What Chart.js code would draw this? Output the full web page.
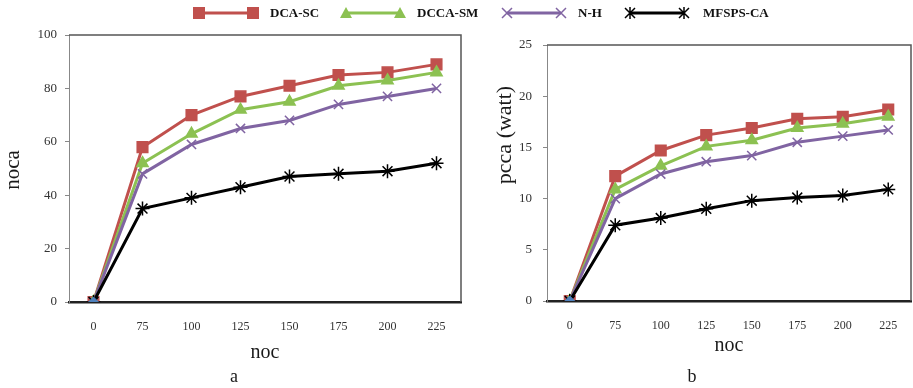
<!DOCTYPE html>
<html>
<head>
<meta charset="utf-8">
<script src="https://cdn.jsdelivr.net/npm/chart.js@4/dist/chart.umd.min.js"></script>
<style>
  body { margin: 0; background: #fff; }
  #wrap { position: relative; width: 913px; height: 388px; overflow: hidden; }
  #nocaChart { position: absolute; left: 0; top: 0; }
  #pccaChart { position: absolute; left: 465px; top: 0; }
  .legend-item { position: absolute; top: 4px; height: 18px; }
  .legend-item canvas { position: absolute; left: 0; top: 0; }
  .legend-item span {
    position: absolute; top: 1px; white-space: nowrap;
    font: bold 13px "Liberation Serif", "Times New Roman", serif; color: #111;
  }
</style>
</head>
<body>
<div id="wrap">
  <canvas id="nocaChart" width="470" height="388"></canvas>
  <canvas id="pccaChart" width="455" height="388"></canvas>
  <div id="legend"></div>
</div>
<script>
// categories
const nocLabels = ['0', '75', '100', '125', '150', '175', '200', '225'];
const seriesNames = ['DCA-SC', 'DCCA-SM', 'N-H', 'MFSPS-CA'];

// chart a: noca
const nocaDcaSc   = [0, 58, 70, 77, 81, 85, 86, 89];
const nocaDccaSm  = [0, 52, 63, 72, 75, 81, 83, 86];
const nocaNH      = [0, 48, 59, 65, 68, 74, 77, 80];
const nocaMfspsCa = [0, 35, 39, 43, 47, 48, 49, 52];

// chart b: pcca (watt)
const pccaDcaSc   = [0, 12.2, 14.7, 16.2, 16.9, 17.8, 18.0, 18.7];
const pccaDccaSm  = [0, 10.9, 13.2, 15.1, 15.7, 16.9, 17.3, 18.0];
const pccaNH      = [0, 10.0, 12.4, 13.6, 14.2, 15.5, 16.1, 16.7];
const pccaMfspsCa = [0, 7.4, 8.1, 9.0, 9.8, 10.1, 10.3, 10.9];

// the little blue marker sitting at the origin
const originPoint = [0];

const serif = '"Liberation Serif", "Times New Roman", serif';
const seriesColors = ['#C0504D', '#8CC152', '#8064A2', '#000000'];
const seriesPoints = ['rect', 'triangle', 'crossRot', 'star'];
const seriesRadius = [7.5, 6.5, 6.5, 7];

// draws the top and right edge of the plot box
const plotFrame = {
  id: 'plotFrame',
  afterDraw(chart) {
    const a = chart.chartArea;
    const ctx = chart.ctx;
    ctx.save();
    ctx.strokeStyle = '#555';
    ctx.lineWidth = 1.5;
    ctx.beginPath();
    ctx.moveTo(a.left, a.top);
    ctx.lineTo(a.right, a.top);
    ctx.lineTo(a.right, a.bottom);
    ctx.stroke();
    ctx.restore();
  }
};

// rotated y axis title at a given spot
const sideTitle = {
  id: 'sideTitle',
  afterDraw(chart, args, opts) {
    const ctx = chart.ctx;
    ctx.save();
    ctx.translate(opts.x, opts.y);
    ctx.rotate(-Math.PI / 2);
    ctx.font = opts.size + 'px ' + serif;
    ctx.fillStyle = '#1a1a1a';
    ctx.textAlign = 'center';
    ctx.textBaseline = 'middle';
    ctx.fillText(opts.text, 0, 0);
    ctx.restore();
  }
};

function makeDatasets(values) {
  const sets = values.map((v, i) => ({
    label: seriesNames[i],
    data: v,
    borderColor: seriesColors[i],
    backgroundColor: seriesColors[i],
    pointStyle: seriesPoints[i],
    pointRadius: seriesRadius[i],
    pointBorderWidth: 1.5,
    borderWidth: 3,
    order: 4 - i
  }));
  sets.push({
    label: 'origin',
    data: originPoint,
    borderColor: '#4F81BD',
    backgroundColor: '#4F81BD',
    pointStyle: 'rectRot',
    pointRadius: 5,
    showLine: false,
    order: 0
  });
  return sets;
}

function makeChart(id, values, cfg) {
  const ctx = document.getElementById(id).getContext('2d');
  return new Chart(ctx, {
    type: 'line',
    data: { labels: nocLabels, datasets: makeDatasets(values) },
    options: {
      responsive: false,
      animation: false,
      events: [],
      layout: { padding: { top: cfg.top, right: cfg.right, bottom: 0, left: 0 } },
      scales: {
        x: {
          offset: true,
          grid: { display: false },
          border: { color: '#222', width: 2.5 },
          ticks: { color: '#333', font: { family: serif, size: 12 }, padding: 10, maxRotation: 0, autoSkip: false },
          title: {
            display: true, text: 'noc', color: '#1a1a1a',
            font: { family: serif, size: 20 },
            padding: { top: 0, bottom: cfg.nocPad }
          },
          afterFit: s => { s.height = cfg.xHeight; }
        },
        y: {
          min: 0, max: cfg.max,
          grid: { drawOnChartArea: false, drawTicks: true, tickLength: 4, color: '#888' },
          border: { color: '#888', width: 1 },
          ticks: { stepSize: cfg.step, color: '#333', font: { family: serif, size: 13 }, padding: cfg.tickPad },
          afterFit: s => { s.width = cfg.yWidth; }
        }
      },
      plugins: {
        legend: { display: false },
        tooltip: { enabled: false },
        subtitle: {
          display: true, position: 'bottom', text: cfg.caption, color: '#1a1a1a',
          font: { family: serif, size: 18, weight: 'normal' },
          padding: { top: 0, bottom: 0 }
        },
        sideTitle: cfg.yTitle
      }
    },
    plugins: [plotFrame, sideTitle]
  });
}

makeChart('nocaChart', [nocaDcaSc, nocaDccaSm, nocaNH, nocaMfspsCa], {
  top: 35, right: 2, max: 100, step: 20, yWidth: 69, tickPad: 8,
  xHeight: 64.4, nocPad: 2, caption: 'a',
  yTitle: { text: 'noca', x: 13, y: 170, size: 21 }
});

makeChart('pccaChart', [pccaDcaSc, pccaDccaSm, pccaNH, pccaMfspsCa], {
  top: 45, right: 1, max: 25, step: 5, yWidth: 82, tickPad: 11,
  xHeight: 65.4, nocPad: 9, caption: 'b',
  yTitle: { text: 'pcca (watt)', x: 40, y: 135, size: 22 }
});

// shared legend across the top
const legendSpots = [
  { icon: 191, text: 270 },
  { icon: 338, text: 417 },
  { icon: 499, text: 578 },
  { icon: 622, text: 703 }
];

function drawMarker(ctx, kind, x, y, color) {
  ctx.fillStyle = color;
  ctx.strokeStyle = color;
  ctx.lineWidth = 1.5;
  ctx.beginPath();
  if (kind === 'rect') {
    ctx.fillRect(x - 6, y - 6, 12, 12);
  } else if (kind === 'triangle') {
    ctx.moveTo(x, y - 6);
    ctx.lineTo(x + 6, y + 5);
    ctx.lineTo(x - 6, y + 5);
    ctx.closePath();
    ctx.fill();
  } else if (kind === 'crossRot') {
    ctx.moveTo(x - 5, y - 5); ctx.lineTo(x + 5, y + 5);
    ctx.moveTo(x + 5, y - 5); ctx.lineTo(x - 5, y + 5);
    ctx.stroke();
  } else {
    ctx.moveTo(x - 5, y - 5); ctx.lineTo(x + 5, y + 5);
    ctx.moveTo(x + 5, y - 5); ctx.lineTo(x - 5, y + 5);
    ctx.moveTo(x, y - 6); ctx.lineTo(x, y + 6);
    ctx.stroke();
  }
}

const legend = document.getElementById('legend');
seriesNames.forEach((name, i) => {
  const item = document.createElement('div');
  item.className = 'legend-item';
  item.style.left = legendSpots[i].icon + 'px';

  const icon = document.createElement('canvas');
  icon.width = 70;
  icon.height = 18;
  const c = icon.getContext('2d');
  c.strokeStyle = seriesColors[i];
  c.lineWidth = 3;
  c.beginPath();
  c.moveTo(8, 9);
  c.lineTo(62, 9);
  c.stroke();
  drawMarker(c, seriesPoints[i], 8, 9, seriesColors[i]);
  drawMarker(c, seriesPoints[i], 62, 9, seriesColors[i]);

  const label = document.createElement('span');
  label.style.left = (legendSpots[i].text - legendSpots[i].icon) + 'px';
  label.innerHTML = name;

  item.appendChild(icon);
  item.appendChild(label);
  legend.appendChild(item);
});
</script>
</body>
</html>
